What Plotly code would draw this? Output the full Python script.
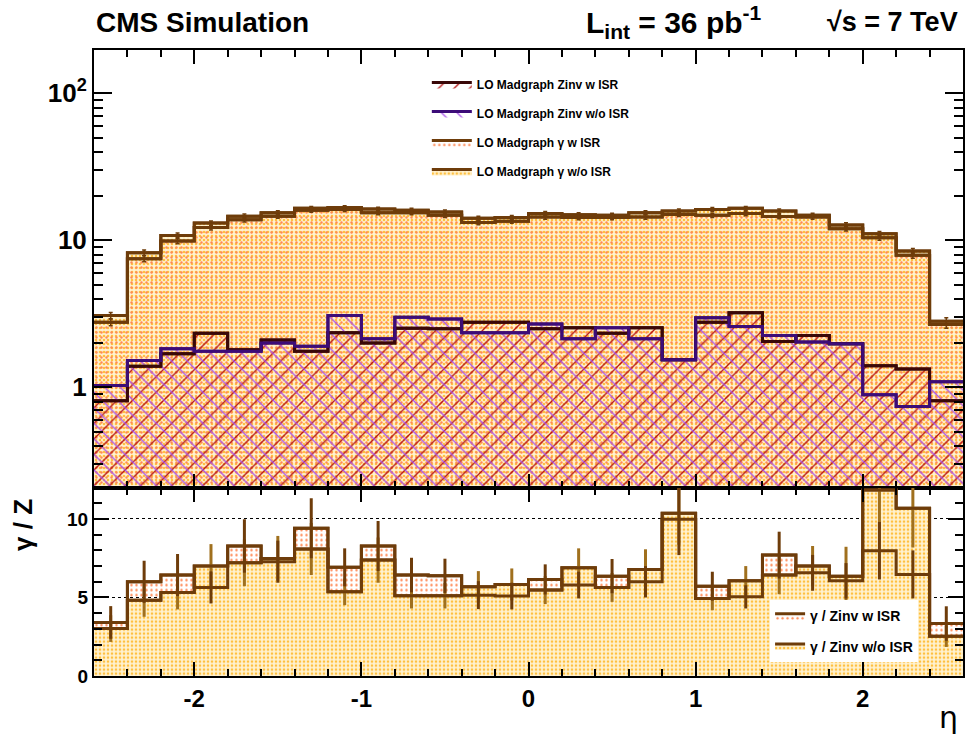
import numpy as np
import plotly.graph_objects as go

# ---------------- data ----------------
eta_edges = [-2.6, -2.4, -2.2, -2.0, -1.8, -1.6, -1.4, -1.2, -1.0, -0.8, -0.6, -0.4, -0.2,
             0.0, 0.2, 0.4, 0.6, 0.8, 1.0, 1.2, 1.4, 1.6, 1.8, 2.0, 2.2, 2.4, 2.6]
eta_ticks = [-2, -1, 0, 1, 2]
eta_tick_labels = ["-2", "-1", "0", "1", "2"]

gam_noisr = [3.08, 8.24, 10.8, 13.1, 14.6, 15.4, 16.5, 16.7, 16.3, 16.0, 15.6, 14.1, 14.3,
             15.2, 14.9, 14.8, 15.4, 15.8, 16.2, 16.5, 15.8, 14.8, 12.7, 11.1, 8.45, 2.82]
gam_isr = [2.77, 7.50, 9.89, 12.2, 13.8, 14.6, 16.0, 16.2, 15.4, 15.4, 14.8, 13.2, 13.5,
           14.4, 14.3, 14.3, 14.4, 15.0, 14.8, 15.2, 14.5, 14.4, 12.0, 10.4, 7.90, 2.67]
gam_err = [0.15, 0.35, 0.40, 0.45, 0.50, 0.50, 0.50, 0.50, 0.50, 0.50, 0.50, 0.45, 0.45,
           0.50, 0.50, 0.50, 0.50, 0.50, 0.50, 0.50, 0.50, 0.50, 0.45, 0.40, 0.35, 0.15]

zinv_isr = [0.81, 1.39, 1.69, 2.33, 1.80, 2.10, 1.76, 2.35, 2.00, 2.52, 2.50, 2.77, 2.77,
            2.50, 2.54, 2.33, 2.54, 1.54, 2.77, 3.21, 2.05, 2.25, 1.98, 1.40, 1.33, 0.81]
zinv_noisr = [1.03, 1.52, 1.83, 1.76, 1.76, 2.00, 1.90, 3.08, 2.14, 3.00, 2.92, 2.35, 2.35,
              2.70, 2.14, 2.54, 2.14, 1.54, 2.97, 2.59, 2.25, 2.03, 1.98, 0.89, 0.74, 1.09]

ratio_isr = [3.41, 6.00, 6.43, 5.64, 8.28, 7.28, 9.41, 6.92, 8.28, 6.43, 6.38, 5.15, 5.09,
             6.15, 5.79, 6.36, 6.00, 9.98, 5.72, 5.04, 7.70, 6.57, 6.06, 7.98, 6.47, 3.34]
ratio_isr_err = [1.04, 1.34, 1.34, 1.02, 1.70, 1.34, 1.91, 1.21, 1.59, 1.10, 1.09, 0.89, 0.85,
                 0.96, 0.85, 1.09, 1.00, 2.28, 0.92, 0.74, 1.49, 1.14, 1.13, 1.83, 1.53, 1.10]
ratio_noisr = [3.02, 4.83, 5.32, 7.00, 7.21, 7.49, 8.09, 5.36, 7.38, 5.11, 5.11, 5.68, 5.83,
               5.47, 6.89, 5.64, 6.79, 10.36, 4.94, 6.06, 6.43, 7.00, 6.36, 11.85, 10.68, 2.53]
ratio_noisr_err = [0.85, 1.06, 1.08, 1.40, 1.49, 1.43, 1.66, 0.85, 1.44, 0.81, 0.81, 1.00, 1.02,
                   0.89, 1.24, 0.92, 1.28, 2.00, 0.75, 0.94, 1.22, 1.28, 1.87, 2.50, 2.50, 0.68]

# ---------------- styling ----------------
BROWN = "#6E3C0A"
BROWN2 = "#A0701E"
DARK = "#3A0808"
PURPLE = "#3C0C78"
FONT = "Liberation Sans"

edges = np.array(eta_edges)
centers = 0.5 * (edges[:-1] + edges[1:])


def step(vals):
    return list(edges), list(vals) + [vals[-1]]


fig = go.Figure()


def hist(vals, name, color, pattern, xa, ya, rank, legend, width=3, showlegend=True):
    x, y = step(vals)
    fig.add_trace(go.Scatter(
        x=x, y=y, mode="lines", line=dict(shape="hv", color=color, width=width),
        fill="tozeroy", fillcolor="rgba(0,0,0,0)", fillpattern=pattern,
        name=name, xaxis=xa, yaxis=ya, legendrank=rank, legend=legend,
        legendgroup=name, showlegend=showlegend, hoverinfo="skip"))


def line_only(vals, color, xa, ya, width=3):
    x, y = step(vals)
    fig.add_trace(go.Scatter(
        x=x, y=y, mode="lines", line=dict(shape="hv", color=color, width=width),
        xaxis=xa, yaxis=ya, showlegend=False, hoverinfo="skip"))


pat_yellow = dict(shape=".", fgcolor="#FFC040", bgcolor="#FFF2D0", size=4, solidity=0.33,
                  fillmode="replace")
pat_orange = dict(shape=".", fgcolor="#FF8A55", bgcolor="rgba(255,255,255,0)", size=5,
                  solidity=0.18, fillmode="replace")
pat_red = dict(shape="/", fgcolor="#B41010", bgcolor="rgba(255,255,255,0)", size=11,
               solidity=0.12, fillmode="replace")
pat_purple = dict(shape="\\", fgcolor="#A850E8", bgcolor="rgba(255,255,255,0)", size=11,
                  solidity=0.12, fillmode="replace")

# ---- top panel ----
hist(gam_noisr, "LO Madgraph γ w/o ISR", BROWN, pat_yellow, "x", "y", 4, "legend")
hist(gam_isr, "LO Madgraph γ w ISR", BROWN, pat_orange, "x", "y", 3, "legend")
hist(zinv_isr, "LO Madgraph Zinv w ISR", DARK, pat_red, "x", "y", 1, "legend")
hist(zinv_noisr, "LO Madgraph Zinv w/o ISR", PURPLE, pat_purple, "x", "y", 2, "legend")
line_only(gam_isr, BROWN, "x", "y")
line_only(gam_noisr, BROWN, "x", "y")
line_only(zinv_isr, DARK, "x", "y")
line_only(zinv_noisr, PURPLE, "x", "y")
for g in (gam_isr, gam_noisr):
    fig.add_trace(go.Scatter(x=centers, y=g, mode="markers", marker=dict(size=1, color=BROWN, opacity=0),
                             error_y=dict(type="data", array=gam_err, color=BROWN,
                                          thickness=1.5, width=2),
                             xaxis="x", yaxis="y", showlegend=False, hoverinfo="skip"))

# ---- ratio panel ----
hist(ratio_isr, "γ / Zinv w ISR", BROWN, pat_orange, "x2", "y2", 1, "legend2")
hist(ratio_noisr, "γ / Zinv w/o ISR", BROWN, pat_yellow, "x2", "y2", 2, "legend2")
fig.add_trace(go.Scatter(x=centers, y=ratio_noisr, mode="markers",
                         marker=dict(size=1, color=BROWN2, opacity=0),
                         error_y=dict(type="data", array=ratio_noisr_err, color=BROWN2,
                                      thickness=3, width=0),
                         xaxis="x2", yaxis="y2", showlegend=False, hoverinfo="skip"))
fig.add_trace(go.Scatter(x=centers, y=ratio_isr, mode="markers",
                         marker=dict(size=1, color=BROWN, opacity=0),
                         error_y=dict(type="data", array=ratio_isr_err, color=BROWN,
                                      thickness=3, width=0),
                         xaxis="x2", yaxis="y2", showlegend=False, hoverinfo="skip"))
line_only(ratio_isr, BROWN, "x2", "y2")
line_only(ratio_noisr, BROWN, "x2", "y2")

# ---------------- layout ----------------
split = 0.301
tickfont = dict(family=FONT, size=24, color="black", weight="bold")
common_x = dict(range=[-2.6, 2.6], tickmode="array", tickvals=eta_ticks,
                ticktext=eta_tick_labels,
                ticks="inside", ticklen=14, tickwidth=1.5, tickcolor="black",
                minor=dict(tickmode="linear", tick0=-2.6, dtick=0.2, ticks="inside", ticklen=7,
                           tickwidth=1.5, tickcolor="black", showgrid=False),
                showline=True, linecolor="black", linewidth=2, mirror="ticks",
                showgrid=False, zeroline=False)

minor_log = [v * m for m in (0.1, 1, 10) for v in range(2, 10) if 0.208 < v * m < 197]

fig.update_layout(
    width=967, height=735,
    margin=dict(l=94, r=2, t=50, b=59),
    paper_bgcolor="white", plot_bgcolor="white",
    font=dict(family=FONT, color="black"),
    xaxis=dict(domain=[0, 1], anchor="y", showticklabels=False, **common_x),
    xaxis2=dict(domain=[0, 1], anchor="y2", matches="x", showticklabels=True,
                tickfont=tickfont, **common_x),
    yaxis=dict(domain=[split, 1], anchor="x", type="log",
               range=[np.log10(0.208), np.log10(197)],
               tickmode="array", tickvals=[1, 10, 100], ticktext=["1", "10", "10<sup>2</sup>"],
               ticks="inside", ticklen=18, tickwidth=1.5, tickcolor="black",
               minor=dict(tickmode="array", tickvals=minor_log, ticks="inside", ticklen=9,
                          tickwidth=1.5, tickcolor="black", showgrid=False),
               showline=True, linecolor="black", linewidth=2, mirror="ticks",
               showgrid=False, zeroline=False,
               tickfont=dict(family=FONT, size=26, color="black", weight="bold")),
    yaxis2=dict(domain=[0, split], anchor="x2", range=[0, 12],
                tickmode="array", tickvals=[0, 5, 10],
                ticks="inside", ticklen=15, tickwidth=1.5, tickcolor="black",
                minor=dict(tickmode="linear", tick0=0, dtick=1, ticks="inside", ticklen=8,
                           tickwidth=1.5, tickcolor="black", showgrid=False),
                showline=True, linecolor="black", linewidth=2, mirror="ticks",
                showgrid=True, gridcolor="black", gridwidth=1, griddash="dot",
                zeroline=False,
                tickfont=dict(family=FONT, size=19, color="black", weight="bold")),
    legend=dict(x=0.383, y=0.968, xanchor="left", yanchor="top",
                bgcolor="rgba(255,255,255,0)", itemwidth=40, tracegroupgap=10,
                font=dict(family=FONT, size=12, color="black", weight="bold")),
    legend2=dict(x=0.778, y=0.121, xanchor="left", yanchor="top",
                 bgcolor="white", itemwidth=30, tracegroupgap=9,
                 font=dict(family=FONT, size=14, color="black", weight="bold")),
    showlegend=True,
)

ann_font = dict(family=FONT, size=28, color="black", weight="bold")
fig.add_annotation(text="CMS Simulation", xref="paper", yref="paper", x=0.0, y=1.0447,
                   xanchor="left", yanchor="middle", showarrow=False, font=ann_font)
fig.add_annotation(text="L<sub>int</sub> = 36 pb<sup>-1</sup>", xref="paper", yref="paper",
                   x=0.5637, y=1.0447, xanchor="left", yanchor="middle", showarrow=False,
                   font=dict(family=FONT, size=30, color="black", weight="bold"))
fig.add_annotation(text="√s = 7 TeV", xref="paper", yref="paper", x=0.9966, y=1.0447,
                   xanchor="right", yanchor="middle", showarrow=False,
                   font=dict(family=FONT, size=27, color="black", weight="bold"))
fig.add_annotation(text="γ / Z", xref="paper", yref="paper", x=-0.082, y=0.241,
                   xanchor="center", yanchor="middle", textangle=-90, showarrow=False,
                   font=dict(family=FONT, size=26, color="black", weight="bold"))
fig.add_annotation(text="η", xref="paper", yref="paper", x=0.983, y=-0.066,
                   xanchor="center", yanchor="middle", showarrow=False,
                   font=dict(family="DejaVu Sans", size=30, color="black"))

fig.write_html("out.html", config={"displayModeBar": False},
               post_script="document.body.style.margin='0';")
